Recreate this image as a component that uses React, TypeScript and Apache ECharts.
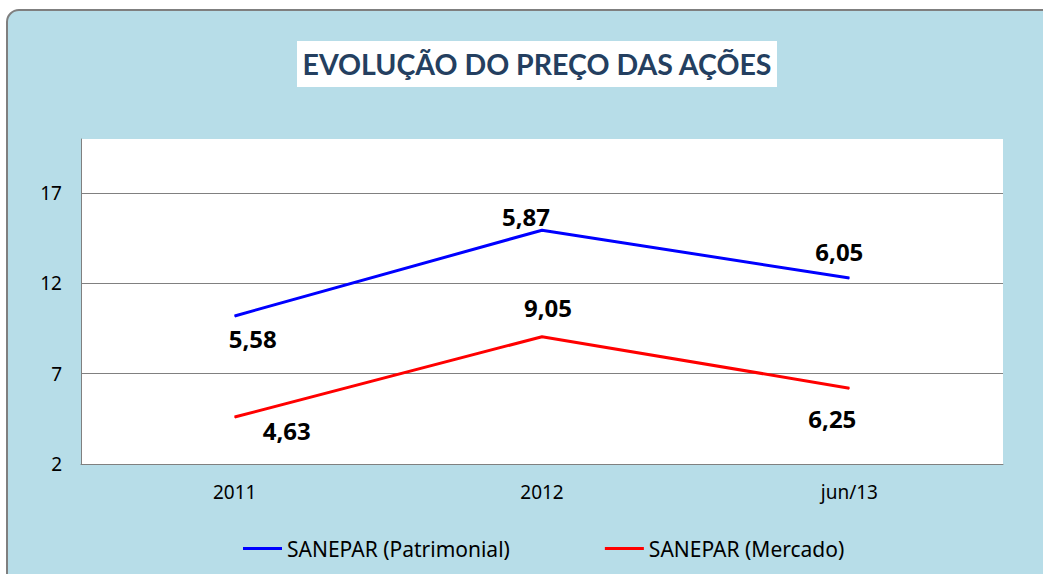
import React, { useEffect, useRef } from "react";
import * as echarts from "echarts";

const categories = ["2011", "2012", "jun/13"];
const patrimonialValues = [10.2, 14.95, 12.3];
const patrimonialLabels = ["5,58", "5,87", "6,05"];
const mercadoValues = [4.6, 9.05, 6.2];
const mercadoLabels = ["4,63", "9,05", "6,25"];
const seriesNames = ["SANEPAR (Patrimonial)", "SANEPAR (Mercado)"];
const titleText = "EVOLUÇÃO DO PREÇO DAS AÇÕES";

const patrimonialOffsets: [number, number][] = [[18, 23], [-16, -14], [-10, -27]];
const mercadoOffsets: [number, number][] = [[52, 13], [6, -29], [-17, 30]];

const labelFont = {
  fontFamily: "'Noto Sans', sans-serif",
  fontWeight: "bold" as const,
  fontSize: 24,
  color: "#000",
};

export default function App() {
  const ref = useRef<HTMLDivElement>(null);
  useEffect(() => {
    if (!ref.current) return;
    const chart = echarts.init(ref.current, null, { renderer: "svg" });
    const mk = (vals: number[], labels: string[], offs: [number, number][]) =>
      vals.map((v, i) => ({
        value: v,
        label: {
          show: true,
          position: "inside",
          offset: offs[i],
          formatter: labels[i],
          ...labelFont,
        },
      }));
    chart.setOption({
      animation: false,
      backgroundColor: "#ffffff",
      graphic: [
        {
          type: "rect",
          z: -10,
          silent: true,
          shape: { x: 7, y: 10, width: 1100, height: 620, r: 12 },
          style: { fill: "#b7dde8", stroke: "#7f7f7f", lineWidth: 2 },
        },
        {
          type: "rect",
          z: -5,
          silent: true,
          shape: { x: 297, y: 41, width: 480, height: 46 },
          style: { fill: "#ffffff" },
        },
        {
          type: "text",
          x: 537,
          y: 64,
          style: {
            text: titleText,
            fill: "#243f60",
            font: "bold 28.5px Lato, sans-serif",
            textAlign: "center",
            textVerticalAlign: "middle",
          },
        },
      ],
      grid: {
        left: 81,
        right: 40,
        top: 139,
        bottom: 110,
        show: true,
        backgroundColor: "#ffffff",
        borderWidth: 0,
      },
      legend: {
        top: 538,
        left: 243,
        padding: 0,
        icon: "rect",
        itemWidth: 39,
        itemHeight: 3,
        itemGap: 95,
        data: seriesNames,
        textStyle: {
          fontFamily: "'Noto Sans', sans-serif",
          fontSize: 21,
          color: "#000",
        },
      },
      xAxis: {
        type: "category",
        data: categories,
        boundaryGap: true,
        axisLine: { show: true, lineStyle: { color: "#808080", width: 1 } },
        axisTick: { show: false },
        axisLabel: {
          margin: 18,
          fontFamily: "'Noto Sans', sans-serif",
          fontSize: 19,
          color: "#000",
        },
        splitLine: { show: false },
      },
      yAxis: {
        type: "value",
        min: 2,
        max: 20,
        interval: 5,
        axisLine: { show: true, lineStyle: { color: "#808080", width: 1 } },
        axisTick: { show: false },
        axisLabel: {
          margin: 19,
          fontFamily: "'Noto Sans', sans-serif",
          fontSize: 19,
          color: "#000",
          formatter: (v: number) => (v > 17 ? "" : String(v)),
        },
        splitLine: {
          show: true,
          showMaxLine: false,
          showMinLine: false,
          lineStyle: { color: "#808080", width: 1 },
        },
      },
      series: [
        {
          name: seriesNames[0],
          type: "line",
          data: mk(patrimonialValues, patrimonialLabels, patrimonialOffsets),
          symbol: "circle",
          symbolSize: 1,
          showSymbol: true,
          lineStyle: { color: "#0000ff", width: 3 },
          itemStyle: { color: "#0000ff" },
        },
        {
          name: seriesNames[1],
          type: "line",
          data: mk(mercadoValues, mercadoLabels, mercadoOffsets),
          symbol: "circle",
          symbolSize: 1,
          showSymbol: true,
          lineStyle: { color: "#ff0000", width: 3 },
          itemStyle: { color: "#ff0000" },
        },
      ],
    });
    return () => chart.dispose();
  }, []);
  return (
    <div
      ref={ref}
      style={{ position: "fixed", left: 0, top: 0, width: 1043, height: 574 }}
    />
  );
}
